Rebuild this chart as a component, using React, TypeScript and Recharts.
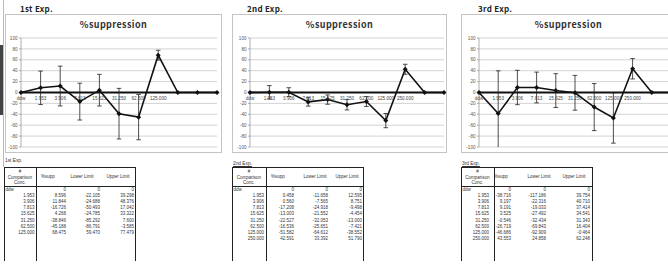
import React from "react";
import { LineChart, Line, XAxis, YAxis, CartesianGrid, ErrorBar, ReferenceLine } from "recharts";

// 1st Exp. (trailing "" slots are the empty rows the sheet plots as 0)
const conc1 = ["ddw", "1.953", "3.906", "7.813", "15.625", "31.250", "62.500", "125.000", "", "", ""];
const supp1 = [0, 8.596, 11.844, -16.726, 4.268, -38.846, -45.188, 68.475, 0, 0, 0];
const lower1 = [0, -22.105, -24.688, -50.493, -24.785, -85.292, -86.791, 59.47, 0, 0, 0];
const upper1 = [0, 39.298, 48.376, 17.042, 33.322, 7.6, -3.585, 77.479, 0, 0, 0];

// 2nd Exp.
const conc2 = ["ddw", "1.953", "3.906", "7.813", "15.625", "31.250", "62.500", "125.000", "250.000", "", ""];
const supp2 = [0, 0.458, 0.56, -17.208, -13.003, -22.527, -16.536, -51.582, 42.591, 0, 0];
const lower2 = [0, -11.658, -7.565, -24.918, -21.552, -32.053, -25.651, -64.612, 33.392, 0, 0];
const upper2 = [0, 12.595, 8.751, -9.498, -4.454, -13.0, -7.421, -38.552, 51.79, 0, 0];

// 3rd Exp.
const conc3 = ["ddw", "1.953", "3.906", "7.813", "15.625", "31.250", "62.500", "125.000", "250.000", "", ""];
const supp3 = [0, -38.716, 9.197, 9.191, 3.525, -0.546, -26.719, -46.686, 43.553, 0, 0];
const lower3 = [0, -117.186, -22.316, -19.033, -27.492, -32.434, -69.843, -92.909, 24.858, 0, 0];
const upper3 = [0, 39.754, 40.71, 37.414, 34.541, 31.343, 16.404, -0.464, 62.248, 0, 0];

const yTicks = [-100, -80, -60, -40, -20, 0, 20, 40, 60, 80, 100];

const FONT = "'Liberation Sans', Arial, sans-serif";
const TITLE_FONT = "'Noto Sans CJK JP', 'Noto Sans', sans-serif";

function fmt(v: number) {
  return v === 0 ? "0" : v.toFixed(3);
}

const Diamond = (p: any) => {
  const { cx, cy, index } = p;
  if (cx == null || cy == null) return <g key={`d${index}`} />;
  const r = 2.5;
  return (
    <path key={`d${index}`} d={`M${cx},${cy - r}L${cx + r},${cy}L${cx},${cy + r}L${cx - r},${cy}Z`} fill="#111" />
  );
};

type Geo = {
  id: string;
  boxLeft: number;
  boxWidth: number;
  plotLeft: number;
  marginRight: number;
  titleLeft: number;
};

const BOX_TOP = 14;
const BOX_H = 139;
const M_TOP = 23;
const M_BOTTOM = 4;

function Chart({ title, conc, supp, lower, upper, geo }: any) {
  const g = geo as Geo;
  const w = g.boxWidth - 2;
  const h = BOX_H - 2;
  const plotH = h - M_TOP - M_BOTTOM - 1;
  const zeroY = M_TOP + plotH / 2;
  const clipId = `clip-${g.id}`;
  const data = conc.map((c: string, i: number) => ({
    conc: c,
    supp: supp[i],
    err: lower[i] === upper[i] ? null : [supp[i] - lower[i], upper[i] - supp[i]],
  }));

  const XTick = (p: any) => (
    <text x={p.x} y={zeroY + 6} textAnchor="middle" dominantBaseline="central" fontSize={4.6} fill="#444" fontFamily={FONT}>
      {p.payload.value}
    </text>
  );

  return (
    <>
      <div
        style={{
          position: "absolute",
          left: g.titleLeft,
          top: 3,
          fontFamily: TITLE_FONT,
          fontWeight: 700,
          fontSize: 8,
          letterSpacing: 0.3,
          color: "#222",
          lineHeight: "12px",
        }}
      >
        {title}
      </div>
      <div
        style={{
          position: "absolute",
          left: g.boxLeft,
          top: BOX_TOP,
          width: w,
          height: h,
          border: "1px solid #c4c4c4",
          overflow: "hidden",
          background: "#fff",
        }}
      >
        <div
          style={{
            position: "absolute",
            left: 0,
            top: 4,
            width: w,
            textAlign: "center",
            fontFamily: TITLE_FONT,
            fontWeight: 700,
            fontSize: 9,
            letterSpacing: 0.4,
            color: "#333",
            lineHeight: "12px",
          }}
        >
          %suppression
        </div>
        <LineChart width={w} height={h} data={data} margin={{ top: M_TOP, right: g.marginRight, bottom: M_BOTTOM, left: 0 }}>
          <defs>
            <clipPath id={clipId}>
              <rect x={g.plotLeft} y={M_TOP} width={w - g.plotLeft - g.marginRight} height={plotH} />
            </clipPath>
          </defs>
          <CartesianGrid vertical={false} stroke="#c8c8c8" strokeWidth={0.8} />
          <XAxis dataKey="conc" height={1} axisLine={false} tickLine={false} interval={0} tick={XTick} />
          <YAxis
            width={g.plotLeft}
            domain={[-100, 100]}
            ticks={yTicks}
            interval={0}
            allowDataOverflow
            tickSize={2}
            tickMargin={1.5}
            axisLine={{ stroke: "#999", strokeWidth: 0.8 }}
            tickLine={{ stroke: "#999", strokeWidth: 0.8 }}
            tick={{ fontSize: 4.6, fill: "#555", fontFamily: FONT }}
          />
          <ReferenceLine y={0} stroke="#111" strokeWidth={2} />
          <Line
            type="linear"
            dataKey="supp"
            stroke="#111"
            strokeWidth={1.6}
            dot={Diamond}
            activeDot={false}
            isAnimationActive={false}
          >
            <ErrorBar
              dataKey="err"
              direction="y"
              width={2.3}
              stroke="#222"
              strokeWidth={0.8}
              clipPath={`url(#${clipId})`}
              isAnimationActive={false}
            />
          </Line>
        </LineChart>
      </div>
    </>
  );
}

type Cols = { cr: number; sep: number; r1: number; r2: number; r3: number; right: number; h1: number; h2: number; h3: number };

const T_TOP = 167;
const T_HEAD = 186;
const T_BOTTOM = 261;
const ROW0 = 189.5;
const ROW_H = 6.2;

function Table({ left, label, underline, labelTop, conc, supp, lower, upper, cols }: any) {
  const c = cols as Cols;
  const txt = { position: "absolute" as const, fontFamily: FONT, fontSize: 4.5, color: "#333", lineHeight: "6px", whiteSpace: "nowrap" as const };
  const rows = conc.map((s: string, i: number) => i).filter((i: number) => conc[i] !== "");
  const line = (l: number, t: number, w: number, h: number) => (
    <div style={{ position: "absolute", left: l, top: t, width: w, height: h, background: "#222" }} />
  );
  const right = (x: number, y: number, s: string, key: string) => (
    <div key={key} style={{ ...txt, left: x - 60, top: y - 3, width: 60, textAlign: "right" }}>
      {s}
    </div>
  );
  const center = (x: number, y: number, s: string, key: string) => (
    <div key={key} style={{ ...txt, left: x - 30, top: y - 3, width: 60, textAlign: "center" }}>
      {s}
    </div>
  );
  return (
    <>
      <div style={{ ...txt, left: left + 1, top: labelTop, fontSize: 4.8, textDecoration: underline ? "underline" : "none" }}>{label}</div>
      {line(left, T_TOP, c.right + 1, 1)}
      {line(left, T_HEAD, c.right + 1, 1)}
      {line(left, T_TOP, 1, T_BOTTOM - T_TOP)}
      {line(left + c.sep, T_TOP, 1.4, T_BOTTOM - T_TOP)}
      {line(left + c.right, T_TOP, 1, T_BOTTOM - T_TOP)}
      {center(left + c.sep / 2, 172, "#", "h0")}
      {center(left + c.sep / 2, 177.5, "Comparison", "h1")}
      {center(left + c.sep / 2, 183, "Conc.", "h2")}
      {center(left + c.h1, 177, "%supp", "h3")}
      {center(left + c.h2, 177, "Lower Limit", "h4")}
      {center(left + c.h3, 177, "Upper Limit", "h5")}
      {rows.map((i: number, k: number) => {
        const y = ROW0 + k * ROW_H;
        return (
          <React.Fragment key={i}>
            {i === 0 ? (
              <div style={{ ...txt, left: left + 1.5, top: y - 3 }}>{conc[i]}</div>
            ) : (
              right(left + c.cr, y, conc[i], `c${i}`)
            )}
            {right(left + c.r1, y, fmt(supp[i]), `s${i}`)}
            {right(left + c.r2, y, fmt(lower[i]), `l${i}`)}
            {right(left + c.r3, y, fmt(upper[i]), `u${i}`)}
          </React.Fragment>
        );
      })}
    </>
  );
}

export default function App() {
  return (
    <div style={{ position: "relative", width: 668, height: 265, overflow: "hidden", background: "#fff" }}>
      <style>{"body{margin:0}"}</style>
      <div style={{ position: "absolute", left: 3, top: 0, width: 1, height: 167, background: "#bbb" }} />
      <div style={{ position: "absolute", left: 0, top: 45, width: 3, height: 70, background: "#444" }} />

      <Chart
        title="1st Exp."
        conc={conc1}
        supp={supp1}
        lower={lower1}
        upper={upper1}
        geo={{ id: "e1", boxLeft: 5, boxWidth: 217, plotLeft: 15, marginRight: 4, titleLeft: 20 }}
      />
      <Chart
        title="2nd Exp."
        conc={conc2}
        supp={supp2}
        lower={lower2}
        upper={upper2}
        geo={{ id: "e2", boxLeft: 232, boxWidth: 215, plotLeft: 17, marginRight: 2, titleLeft: 247 }}
      />
      <Chart
        title="3rd Exp."
        conc={conc3}
        supp={supp3}
        lower={lower3}
        upper={upper3}
        geo={{ id: "e3", boxLeft: 461, boxWidth: 215, plotLeft: 17, marginRight: 4, titleLeft: 478 }}
      />

      <Table
        left={4}
        label="1st Exp."
        labelTop={158}
        conc={conc1}
        supp={supp1}
        lower={lower1}
        upper={upper1}
        cols={{ cr: 30.5, sep: 32, r1: 62, r2: 96, r3: 130, right: 131, h1: 44, h2: 78, h3: 114 }}
      />
      <Table
        left={232}
        label="2nd Exp."
        underline
        labelTop={161}
        conc={conc2}
        supp={supp2}
        lower={lower2}
        upper={upper2}
        cols={{ cr: 32, sep: 34, r1: 62, r2: 96, r3: 130, right: 131, h1: 46, h2: 83, h3: 115 }}
      />
      <Table
        left={461}
        label="3rd Exp."
        underline
        labelTop={161}
        conc={conc3}
        supp={supp3}
        lower={lower3}
        upper={upper3}
        cols={{ cr: 28, sep: 33, r1: 50, r2: 85, r3: 129, right: 131, h1: 40, h2: 78, h3: 113 }}
      />
    </div>
  );
}
